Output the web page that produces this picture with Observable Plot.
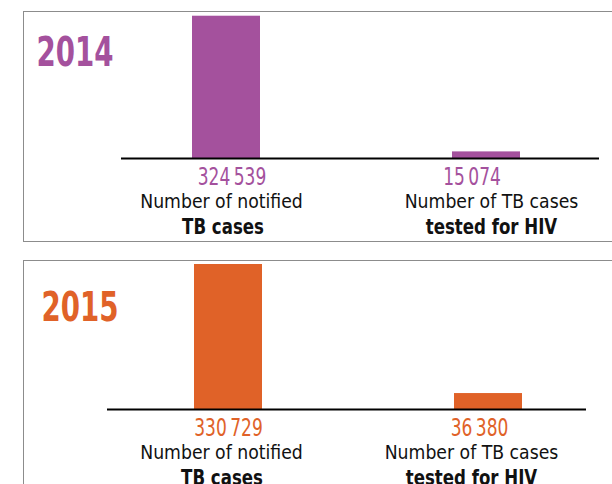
<!DOCTYPE html>
<html>
<head>
<meta charset="utf-8">
<script src="https://cdn.jsdelivr.net/npm/d3@7"></script>
<script src="https://cdn.jsdelivr.net/npm/@observablehq/plot@0.6"></script>
<style>
  html, body { margin: 0; padding: 0; background: #fff; width: 612px; height: 484px; overflow: hidden; }
  .panel { position: absolute; border: 1.3px solid #8c8c8c; border-right: none; box-sizing: content-box; background: #fff; }
  .panel svg { overflow: visible; display: block; }
</style>
</head>
<body>
<div id="p1" class="panel"></div>
<div id="p2" class="panel"></div>
<script>
// ---- data ----
const years = ["2014", "2015"];
const categories = ["notified", "tested"];
const values2014 = [324539, 15074];
const values2015 = [330729, 36380];
const labelLine1 = ["Number of notified", "Number of TB cases"];
const labelLine2 = ["TB cases", "tested for HIV"];
const yearColors = ["#a4519d", "#e06228"];

// ---- layout / style ----
const fmt = d3.formatLocale({thousands: "\u2009", grouping: [3], decimal: "."}).format(",d");
const FONT = "'Liberation Sans Narrow', 'DejaVu Sans Condensed', 'Arial Narrow', sans-serif";
const W = 600, H = 229;
// horizontal condensing per font size, to imitate a condensed face
const condense = {"24": 0.79, "20": 0.96, "20.5": 0.9, "41": 0.75};
const panels = [
  {el: "p1", top: 11, left: 23, boxH: 229, values: values2014, baseline: 146, xShift: 0,
   mL: 97, mR: 25, yearX: 12, yearBase: 53, numDx: [5.5, -14.5], l1Dx: [-5, 5], l2Dx: [-3.5, 5]},
  {el: "p2", top: 260, left: 23, boxH: 260, values: values2015, baseline: 148, xShift: 1.5,
   mL: 83, mR: 38, yearX: 17, yearBase: 59, numDx: [0, -9], l1Dx: [-7, -17], l2Dx: [-6.5, -17]}
];

panels.forEach((p, k) => {
  const color = yearColors[k];
  const data = categories.map((c, i) => ({cat: c, value: p.values[i], i}));
  const perDatum = (fn) => data.map(d => fn(d));
  const marks = [
    Plot.barY(data, {x: "cat", y: "value", fill: color}),
    Plot.ruleY([0], {stroke: "#000", strokeWidth: 2}),
    ...perDatum(d => Plot.text([d], {x: "cat", y: () => 0, text: d => fmt(d.value), lineAnchor: "bottom",
      dy: 26, dx: p.numDx[d.i], fontSize: 24, fill: color})),
    ...perDatum(d => Plot.text([d], {x: "cat", y: () => 0, text: d => labelLine1[d.i], lineAnchor: "bottom",
      dy: 49, dx: p.l1Dx[d.i], fontSize: 20, fill: "#111"})),
    ...perDatum(d => Plot.text([d], {x: "cat", y: () => 0, text: d => labelLine2[d.i], lineAnchor: "bottom",
      dy: 75, dx: p.l2Dx[d.i], fontSize: 20.5, fontWeight: "bold", fill: "#111"})),
    Plot.text([years[k]], {text: d => d, frameAnchor: "top-left", textAnchor: "start", lineAnchor: "bottom",
      dx: p.yearX - p.mL, dy: p.yearBase, fontSize: 41, fontWeight: "bold", fill: color})
  ];
  const chart = Plot.plot({
    width: W, height: H,
    marginLeft: p.mL, marginRight: p.mR, marginTop: 0, marginBottom: 0,
    style: {fontFamily: FONT, background: "transparent", overflow: "visible"},
    x: {domain: categories, range: [72 + p.xShift, 592 + p.xShift], paddingInner: 0.7385, paddingOuter: 0.369, axis: null},
    y: {domain: [0, 330729], range: [p.baseline, p.baseline - 145], axis: null},
    marks
  });
  const div = document.getElementById(p.el);
  div.style.top = p.top + "px";
  div.style.left = p.left + "px";
  div.style.width = "620px";
  div.style.height = p.boxH + "px";
  div.appendChild(chart);
  // condense text horizontally
  chart.querySelectorAll("g[font-size]").forEach(g => {
    const f = condense[g.getAttribute("font-size")];
    if (!f) return;
    g.querySelectorAll("text").forEach(t => {
      const w = t.getComputedTextLength();
      t.setAttribute("textLength", (w * f).toFixed(2));
      t.setAttribute("lengthAdjust", "spacingAndGlyphs");
    });
  });
});
</script>
</body>
</html>
